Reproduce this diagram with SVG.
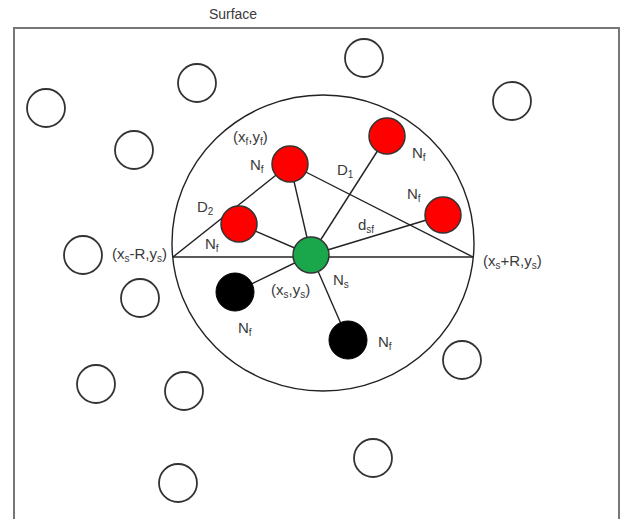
<svg xmlns="http://www.w3.org/2000/svg" width="625" height="519" viewBox="0 0 625 519">
<style>
text{font-family:"Liberation Sans",Arial,sans-serif;font-size:15px;fill:#3a3a3a}
.sub{font-size:10px}
.empty{fill:#fff;stroke:#333;stroke-width:1.8}
.red{fill:#f00;stroke:#333;stroke-width:1.5}
.green{fill:#1aa64a;stroke:#333;stroke-width:1.5}
.black{fill:#000;stroke:#000;stroke-width:1}
.ln{stroke:#222;stroke-width:1.4;fill:none}
</style>
<rect width="625" height="519" fill="#fff"/>
<g id="surface">
<path d="M14 519 V28 H619 V519" fill="none" stroke="#777" stroke-width="2"/>
<text x="233" y="19" text-anchor="middle" style="font-size:14px">Surface</text>
</g>
<g id="range">
<ellipse cx="323" cy="243" rx="151" ry="148" class="ln"/>
</g>
<g id="connectors">
<line x1="173" y1="257" x2="473" y2="257" class="ln" stroke-width="2"/>
<line x1="173" y1="257" x2="290" y2="164" class="ln"/>
<line x1="290" y1="164" x2="473" y2="257" class="ln"/>
<line x1="290" y1="164" x2="311" y2="255" class="ln"/>
<line x1="239" y1="224" x2="311" y2="255" class="ln"/>
<line x1="387" y1="136" x2="311" y2="255" class="ln"/>
<line x1="443" y1="215" x2="311" y2="255" class="ln"/>
<line x1="235" y1="292" x2="311" y2="255" class="ln"/>
<line x1="348" y1="340" x2="311" y2="255" class="ln"/>
</g>
<g id="empty-nodes">
<circle cx="46" cy="108" r="19" class="empty"/>
<circle cx="197" cy="83" r="19" class="empty"/>
<circle cx="364" cy="58" r="19" class="empty"/>
<circle cx="512" cy="101" r="19" class="empty"/>
<circle cx="134" cy="150" r="19" class="empty"/>
<circle cx="83" cy="255" r="19" class="empty"/>
<circle cx="140" cy="298" r="19" class="empty"/>
<circle cx="462" cy="360" r="19" class="empty"/>
<circle cx="96" cy="384" r="19" class="empty"/>
<circle cx="184" cy="391" r="19" class="empty"/>
<circle cx="373" cy="458" r="19" class="empty"/>
<circle cx="178" cy="483" r="19" class="empty"/>
</g>
<g id="node-f1">
<circle cx="290" cy="164" r="18" class="red"/>
<text x="233" y="142">(x<tspan class="sub" dy="3">f</tspan><tspan dy="-3">,y</tspan><tspan class="sub" dy="3">f</tspan><tspan dy="-3">)</tspan></text>
<text x="250" y="170">N<tspan class="sub" dy="3">f</tspan></text>
</g>
<g id="node-f2">
<circle cx="239" cy="224" r="18" class="red"/>
<text x="205" y="249">N<tspan class="sub" dy="3">f</tspan></text>
</g>
<g id="node-f3">
<circle cx="387" cy="136" r="18" class="red"/>
<text x="412" y="158">N<tspan class="sub" dy="3">f</tspan></text>
</g>
<g id="node-f4">
<circle cx="443" cy="215" r="18" class="red"/>
<text x="407" y="199">N<tspan class="sub" dy="3">f</tspan></text>
</g>
<g id="node-f5">
<circle cx="235" cy="292" r="19" class="black"/>
<text x="238" y="333">N<tspan class="sub" dy="3">f</tspan></text>
</g>
<g id="node-f6">
<circle cx="348" cy="340" r="19" class="black"/>
<text x="378" y="347">N<tspan class="sub" dy="3">f</tspan></text>
</g>
<g id="node-s">
<circle cx="311" cy="255" r="18" class="green"/>
<text x="333" y="285">N<tspan class="sub" dy="3">s</tspan></text>
<text x="271" y="295">(x<tspan class="sub" dy="3">s</tspan><tspan dy="-3">,y</tspan><tspan class="sub" dy="3">s</tspan><tspan dy="-3">)</tspan></text>
</g>
<g id="labels">
<text x="197" y="212">D<tspan class="sub" dy="3">2</tspan></text>
<text x="337" y="175">D<tspan class="sub" dy="3">1</tspan></text>
<text x="358" y="230">d<tspan class="sub" dy="3">sf</tspan></text>
<text x="112" y="259">(x<tspan class="sub" dy="3">s</tspan><tspan dy="-3">-R,y</tspan><tspan class="sub" dy="3">s</tspan><tspan dy="-3">)</tspan></text>
<text x="483" y="266">(x<tspan class="sub" dy="3">s</tspan><tspan dy="-3">+R,y</tspan><tspan class="sub" dy="3">s</tspan><tspan dy="-3">)</tspan></text>
</g>
</svg>
